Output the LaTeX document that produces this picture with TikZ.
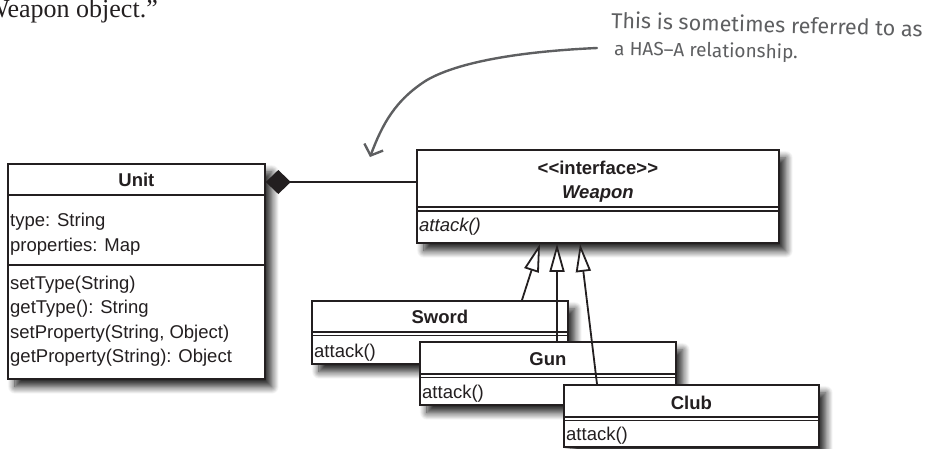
\documentclass[tikz,border=0pt]{standalone}
\usepackage{fontspec}
\setmainfont{Liberation Sans}
\newfontfamily\serifx{Liberation Serif}
\newfontfamily\handx{Fira Sans}
\usetikzlibrary{arrows.meta,shadows.blur,calc}
\definecolor{ink}{HTML}{231F20}
\definecolor{note}{HTML}{5E5F61}
\begin{document}
\begin{tikzpicture}[x=1pt,y=-1pt,
  umlbox/.style={draw=ink, line width=1.8pt, fill=white, anchor=north west, inner sep=0pt,
    blur shadow={shadow xshift=7pt, shadow yshift=-8pt, shadow blur radius=7pt, shadow blur steps=14, shadow opacity=85}},
  divider/.style={draw=ink, line width=1.3pt},
  txt/.style={font=\fontsize{18.5}{22}\selectfont, text=ink, inner sep=0pt, anchor=base west},
  ttl/.style={font=\fontsize{18.5}{22}\selectfont\bfseries, text=ink, inner sep=0pt, anchor=base},
  gen/.style={draw=ink, line width=1.8pt, -{Triangle[open, length=28pt, width=15pt, fill=white]}},
  notetxt/.style={font=\handx\fontsize{21.5}{24}\selectfont, text=note, inner sep=0pt, anchor=base west}
]
\useasboundingbox (0,0) rectangle (928,448);

% top-left text
\node[font=\serifx\fontsize{26}{30}\selectfont, text=ink, inner sep=0pt, anchor=base east] (cont) at (158,17) {Weapon object.”};

% annotation
\node[notetxt, rotate=-1.6] (note1) at (611,28) {This is sometimes referred to as};
\node[notetxt, font=\handx\fontsize{19}{22}\selectfont, rotate=-1.2] (note2) at (614,55) {a HAS–A relationship.};
\coordinate (ns) at (597,48);
\coordinate (ne) at (370,157);
\draw[note, line width=2.4pt, line cap=round, -{Straight Barb[length=9pt, width=20pt]}]
  (ns) .. controls (530,51) and (462,60) .. (427,80) .. controls (395,100) and (382,125) .. (ne);

% Weapon interface
\node[umlbox, minimum width=362pt, minimum height=93pt] (weapon) at (416,149) {};
\draw[divider] ($(weapon.north west)+(0,58)$) -- ($(weapon.north east)+(0,58)$);
\draw[divider] ($(weapon.north west)+(0,62)$) -- ($(weapon.north east)+(0,62)$);
\node[ttl] (wst) at ($(weapon.north)+(0,25)$) {<\kern0pt<interface>\kern0pt>};
\node[ttl, font=\fontsize{18.5}{22}\selectfont\bfseries\itshape] (wname) at ($(weapon.north)+(0,49)$) {Weapon};
\node[txt, font=\fontsize{18.5}{22}\selectfont\itshape] (wop) at ($(weapon.north west)+(3,82)$) {attack()};

% Unit
\node[umlbox, minimum width=257pt, minimum height=215pt] (unit) at (7,163) {};
\draw[divider, line width=1.6pt] ($(unit.north west)+(0,32)$) -- ($(unit.north east)+(0,32)$);
\draw[divider, line width=1.6pt] ($(unit.north west)+(0,102)$) -- ($(unit.north east)+(0,102)$);
\node[ttl] (utitle) at ($(unit.north)+(0,23)$) {Unit};
\node[txt] (ua1) at ($(unit.north west)+(3,63)$) {type: String};
\node[txt] (ua2) at ($(unit.north west)+(3,88)$) {properties: Map};
\node[txt] (uo1) at ($(unit.north west)+(3,126)$) {setType(String)};
\node[txt] (uo2) at ($(unit.north west)+(3,150)$) {getType(): String};
\node[txt] (uo3) at ($(unit.north west)+(3,175)$) {setProperty(String, Object)};
\node[txt] (uo4) at ($(unit.north west)+(3,199)$) {getProperty(String): Object};

% composition
\draw[draw=ink, line width=1.8pt, {Diamond[length=25pt, width=24pt, fill=ink]}-]
  ($(unit.north east)+(0,19)$) -- ($(weapon.north west)+(0,33)$);

% Sword
\node[umlbox, minimum width=256pt, minimum height=63pt] (sword) at (311,300) {};
\draw[divider] ($(sword.north west)+(0,32)$) -- ($(sword.north east)+(0,32)$);
\draw[divider] ($(sword.north west)+(0,35.5)$) -- ($(sword.north east)+(0,35.5)$);
\node[ttl] (stitle) at ($(sword.north)+(0,23)$) {Sword};
\node[txt] (sop) at ($(sword.north west)+(3,57)$) {attack()};

% Gun
\node[umlbox, minimum width=256pt, minimum height=63pt] (gun) at (419,341) {};
\draw[divider] ($(gun.north west)+(0,33)$) -- ($(gun.north east)+(0,33)$);
\draw[divider] ($(gun.north west)+(0,36.5)$) -- ($(gun.north east)+(0,36.5)$);
\node[ttl] (gtitle) at ($(gun.north)+(0,24)$) {Gun};
\node[txt] (gop) at ($(gun.north west)+(3,57)$) {attack()};

% Club
\node[umlbox, minimum width=255pt, minimum height=62pt] (club) at (563,384) {};
\draw[divider] ($(club.north west)+(0,33)$) -- ($(club.north east)+(0,33)$);
\draw[divider] ($(club.north west)+(0,36.5)$) -- ($(club.north east)+(0,36.5)$);
\node[ttl] (ctitle) at ($(club.north)+(0,25)$) {Club};
\node[txt] (cop) at ($(club.north west)+(3,56)$) {attack()};

% generalisations
\draw[gen] ($(sword.north west)+(211,0)$) -- ($(weapon.south west)+(124,0)$);
\draw[gen] ($(gun.north west)+(138,0)$) -- ($(weapon.south west)+(141,0)$);
\draw[gen] ($(club.north west)+(34,0)$) -- ($(weapon.south west)+(164,0)$);
\end{tikzpicture}
\end{document}
